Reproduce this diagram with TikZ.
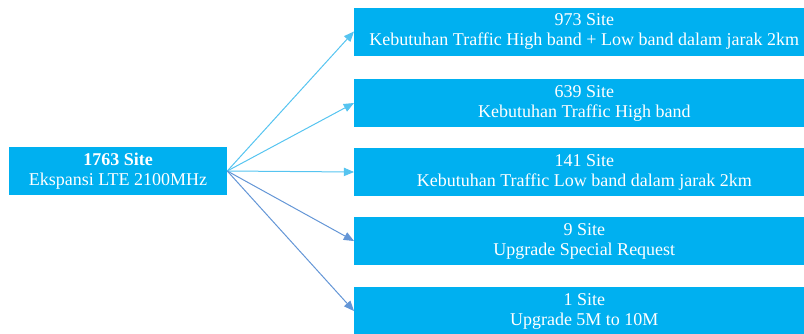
\documentclass[tikz,border=0pt]{standalone}
\usepackage{fontspec}
\setmainfont{LiberationSerif}[Extension=.ttf, UprightFont=*-Regular, BoldFont=*-Bold, ItalicFont=*-Italic, BoldItalicFont=*-BoldItalic]
\usepackage{tikz}
\usetikzlibrary{arrows, positioning}
\definecolor{boxblue}{RGB}{0,176,240}
\definecolor{lightarrow}{RGB}{86,196,240}
\definecolor{darkarrow}{RGB}{100,150,214}

\begin{document}
\begin{tikzpicture}[x=0.75pt, y=-0.75pt,
	box/.style={fill=boxblue, text=white, minimum height=36pt, inner sep=0pt, align=center, font=\fontsize{13.5}{15}\selectfont},
	link/.style={-triangle 45, line width=0.75pt}]
		\useasboundingbox (0,0) rectangle (804,333);
		
		\node [box, minimum width=163.5pt] (src) at (118,171) {\textbf{1763 Site}\\Ekspansi LTE 2100MHz};
		
		\foreach \n/\y/\t in {1/31.5/{973 Site\\Kebutuhan Traffic High band + Low band dalam jarak 2km},
			2/103/{639 Site\\Kebutuhan Traffic High band},
			3/172/{141 Site\\Kebutuhan Traffic Low band dalam jarak 2km},
			4/241/{9 Site\\Upgrade Special Request},
			5/311/{1 Site\\Upgrade 5M to 10M}}{
			\node [box, minimum width=345pt, anchor=west] (t\n) at (354,\y) {\t};
		}
		
		\foreach \n in {1,2,3}{
			\draw [link, lightarrow] (src.east) -- (t\n.west);
		}
		\foreach \n in {4,5}{
			\draw [link, darkarrow] (src.east) -- (t\n.west);
		}
	\end{tikzpicture}
\end{document}
